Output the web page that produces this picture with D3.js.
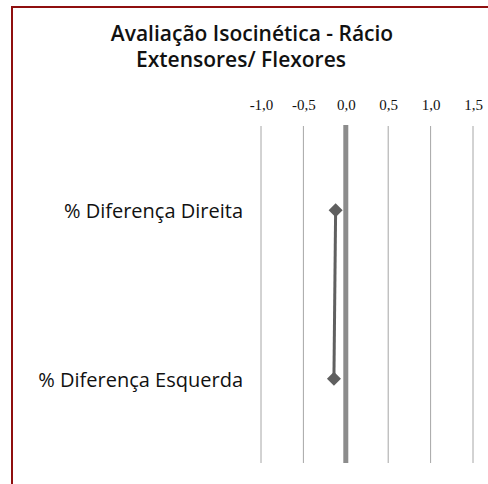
<!DOCTYPE html>
<html>
<head>
<meta charset="utf-8">
<script src="https://cdn.jsdelivr.net/npm/d3@7"></script>
<style>
  html, body { margin: 0; padding: 0; background: #ffffff; }
  svg { display: block; }
</style>
</head>
<body>
<div id="chart"></div>
<script>
// Rácio extensores/flexores: diferença percentual por lado
const categories = ["% Diferença Direita", "% Diferença Esquerda"];
const values = [-0.12, -0.14];
const tickValues = [-1.0, -0.5, 0.0, 0.5, 1.0, 1.5];
const tickLabels = ["-1,0", "-0,5", "0,0", "0,5", "1,0", "1,5"];
const titleLines = ["Avaliação Isocinética - Rácio", "Extensores/ Flexores"];

const W = 488, H = 484;
const svg = d3.select("#chart").append("svg")
  .attr("width", W).attr("height", H);

// chart frame (left and top edges visible)
svg.append("path")
  .attr("d", `M12,${H} L12,7 L${W},7`)
  .attr("fill", "none")
  .attr("stroke", "#8f0f0f")
  .attr("stroke-width", 2);

// title
svg.append("g").selectAll("text")
  .data(titleLines)
  .join("text")
  .attr("x", (d, i) => i === 0 ? 252 : 241)
  .attr("y", (d, i) => 41 + i * 26)
  .attr("text-anchor", "middle")
  .attr("font-family", "'Open Sans', 'Noto Sans', sans-serif")
  .attr("font-weight", 600)
  .attr("font-size", 21)
  .attr("fill", "#111")
  .text(d => d);

const x = d3.scaleLinear().domain([-1, 1.5]).range([261, 473]);
const y = d3.scaleBand().domain(categories).range([126, 463]).padding(0);

// vertical gridlines
svg.append("g").selectAll("line")
  .data(tickValues.filter(v => v !== 0))
  .join("line")
  .attr("x1", d => x(d)).attr("x2", d => x(d))
  .attr("y1", y.range()[0]).attr("y2", y.range()[1])
  .attr("stroke", "#a6a6a6")
  .attr("stroke-width", 1);

// zero line
svg.append("line")
  .attr("x1", x(0)).attr("x2", x(0))
  .attr("y1", y.range()[0] - 1).attr("y2", y.range()[1])
  .attr("stroke", "#8c8c8c")
  .attr("stroke-width", 5);

// top axis labels
const xAxis = d3.axisTop(x)
  .tickValues(tickValues)
  .tickFormat((d, i) => tickLabels[i])
  .tickSize(0)
  .tickPadding(0);
const gx = svg.append("g")
  .attr("transform", "translate(0,110)")
  .call(xAxis);
gx.select(".domain").remove();
gx.selectAll("text")
  .attr("font-family", "'Liberation Serif', serif")
  .attr("font-size", 15)
  .attr("fill", "#111")
  .attr("dy", 0);

// category labels
svg.append("g").selectAll("text")
  .data(categories)
  .join("text")
  .attr("x", 243)
  .attr("y", d => y(d) + y.bandwidth() / 2 + 8)
  .attr("text-anchor", "end")
  .attr("font-family", "'Open Sans', 'Noto Sans', sans-serif")
  .attr("font-size", 20)
  .attr("fill", "#111")
  .text(d => d);

const pts = categories.map((c, i) => ({ c, v: values[i] }));

// connecting line
svg.append("path")
  .datum(pts)
  .attr("d", d3.line().x(d => x(d.v)).y(d => y(d.c) + y.bandwidth() / 2))
  .attr("fill", "none")
  .attr("stroke", "#606060")
  .attr("stroke-width", 3);

// diamond markers
svg.append("g").selectAll("path")
  .data(pts)
  .join("path")
  .attr("transform", d => `translate(${x(d.v)},${y(d.c) + y.bandwidth() / 2})`)
  .attr("d", d3.symbol(d3.symbolDiamond2, 125))
  .attr("fill", "#5f5f5f");
</script>
</body>
</html>
